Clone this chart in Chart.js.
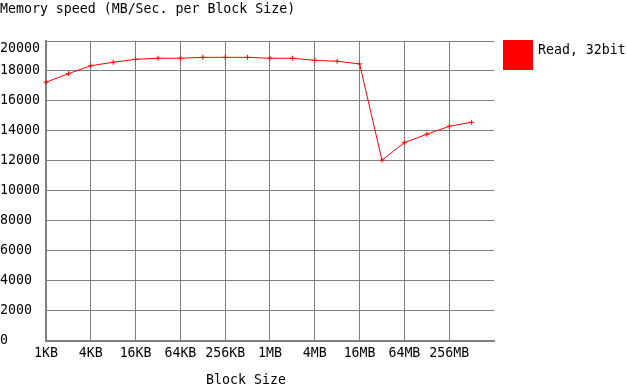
<!DOCTYPE html>
<html>
<head>
<meta charset="utf-8">
<title>Memory speed</title>
<script src="https://cdn.jsdelivr.net/npm/chart.js@4/dist/chart.umd.min.js"></script>
<style>
    html, body { margin: 0; padding: 0; background: #fff; }
    .wrap {
        position: relative;
        width: 626px;
        height: 389px;
        font-family: "DejaVu Sans Mono", monospace;
        font-size: 13.25px;
        color: #000;
    }
    #speedChart { position: absolute; left: 0; top: 0; }
    .legend { position: absolute; left: 503px; top: 40px; }
    .legend-box { position: absolute; left: 0; top: 0; width: 30px; height: 30px; }
    .legend-text { position: absolute; left: 35px; top: 2px; line-height: 16px; white-space: nowrap; }
    .x-title { position: absolute; left: 0; top: 372px; width: 492px; line-height: 16px; text-align: center; }
</style>
</head>
<body>
<div class="wrap">
    <canvas id="speedChart" width="626" height="389"></canvas>
    <div class="legend" id="legend">
        <div class="legend-box" id="legendBox"></div>
        <div class="legend-text" id="legendText"></div>
    </div>
    <div class="x-title" id="xTitle"></div>
</div>
<script>
const blockSizes = ['1KB', '2KB', '4KB', '8KB', '16KB', '32KB', '64KB', '128KB', '256KB', '512KB',
    '1MB', '2MB', '4MB', '8MB', '16MB', '32MB', '64MB', '128MB', '256MB', '512MB', '1GB'];
const readSpeed = [17250, 17820, 18350, 18580, 18780, 18850, 18850, 18910, 18910, 18910,
    18850, 18850, 18710, 18650, 18470, 12050, 13220, 13780, 14310, 14580];
const tickLabels = ['1KB', '4KB', '16KB', '64KB', '256KB', '1MB', '4MB', '16MB', '64MB', '256MB'];
const yMin = 0;
const yMax = 20000;
const yStep = 2000;

const chartTitle = 'Memory speed (MB/Sec. per Block Size)';
const xAxisTitle = 'Block Size';
const seriesName = 'Read, 32bit';
const seriesColor = '#ff0000';
const gridColor = '#808080';

Chart.defaults.font.family = '"DejaVu Sans Mono", monospace';
Chart.defaults.font.size = 13.25;
Chart.defaults.color = '#000';

const chart = new Chart(document.getElementById('speedChart'), {
    type: 'line',
    data: {
        labels: blockSizes,
        datasets: [{
            label: seriesName,
            data: readSpeed,
            borderColor: seriesColor,
            backgroundColor: seriesColor,
            borderWidth: 1,
            tension: 0,
            fill: false,
            pointStyle: 'cross',
            pointRadius: 2.5,
            pointBorderWidth: 1,
            pointBorderColor: seriesColor
        }]
    },
    options: {
        responsive: false,
        animation: false,
        devicePixelRatio: 1,
        layout: { padding: { left: 0, top: 0, right: 132, bottom: 22.3 } },
        plugins: {
            legend: { display: false },
            tooltip: { enabled: false },
            title: {
                display: true,
                text: chartTitle,
                align: 'start',
                font: { size: 13.25, weight: 'normal' },
                padding: { top: 2, bottom: 23.1 }
            }
        },
        scales: {
            x: {
                offset: false,
                grid: { color: gridColor, lineWidth: 1, drawTicks: false },
                border: { color: gridColor, width: 2 },
                ticks: {
                    autoSkip: false,
                    maxRotation: 0,
                    padding: 5,
                    callback: function (value) {
                        const name = this.getLabelForValue(value);
                        return tickLabels.includes(name) ? name : null;
                    }
                }
            },
            y: {
                min: yMin,
                max: yMax,
                grid: { color: gridColor, lineWidth: 1, drawTicks: false },
                border: { color: gridColor, width: 2 },
                ticks: {
                    stepSize: yStep,
                    autoSkip: false,
                    crossAlign: 'far',
                    padding: 3.05,
                    // top label sits just under its grid line, as in the original
                    callback: (v) => v === yMax ? ['', String(v)] : String(v)
                }
            }
        }
    }
});

const ds = chart.data.datasets[0];
document.getElementById('legendBox').style.background = ds.borderColor;
document.getElementById('legendText').textContent = ds.label;
document.getElementById('xTitle').textContent = xAxisTitle;
</script>
</body>
</html>
